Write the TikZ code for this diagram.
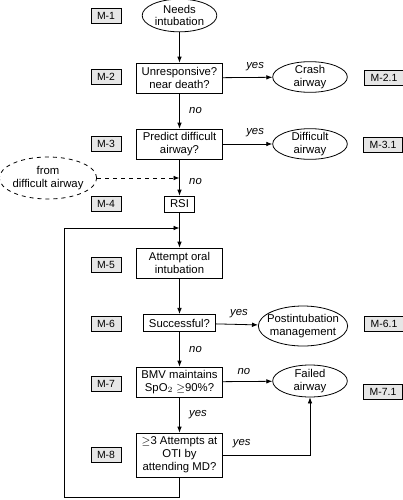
\documentclass[tikz,border=0pt]{standalone}
\usepackage{fontspec}
\setmainfont{Liberation Sans}
\definecolor{tagfill}{HTML}{E6E6E6}
\usetikzlibrary{arrows.meta, shapes, positioning}
\tikzset{
  stepbox/.style={draw, align=center, inner sep=1pt,
                  font=\fontsize{8.5}{9.6}\selectfont},
  endoval/.style={draw, ellipse, align=center, inner xsep=-8pt,
                  inner ysep=-5pt, font=\fontsize{8.5}{9.6}\selectfont},
  tagbox/.style={draw, fill=tagfill, inner xsep=4.5pt, inner ysep=2pt,
                 minimum height=11.5pt, font=\fontsize{7.8}{9}\selectfont},
  answer/.style={font=\fontsize{8.5}{9.6}\selectfont\itshape, inner sep=1pt}
}
\begin{document}
\begin{tikzpicture}[x=0.75pt, y=-0.75pt, line width=0.6pt, >={Latex[length=4.5pt,width=3.5pt]}]
      \useasboundingbox (0,0) rectangle (403,500);
      % Main column
      \node[endoval, minimum width=56pt, minimum height=24.5pt] (needs) at (179.5,15.5) {Needs\\intubation};
      \node[stepbox, minimum width=65pt, minimum height=22.5pt] (unresp) at (179.5,78) {Unresponsive?\\near death?};
      \node[stepbox, minimum width=65pt, minimum height=22.5pt] (predict) at (179.5,144) {Predict difficult\\airway?};
      \node[stepbox, minimum width=22.5pt, minimum height=12pt] (rsi) at (179.5,204) {RSI};
      \node[stepbox, minimum width=65pt, minimum height=22.5pt] (attempt) at (179.5,263) {Attempt oral\\intubation};
      \node[stepbox, minimum width=54pt, minimum height=13pt] (success) at (179.5,323) {Successful?};
      \node[stepbox, minimum width=65pt, minimum height=22.5pt] (bmv) at (179.5,382) {BMV maintains\\SpO$_2$ $\geq$90\%?};
      \node[stepbox, minimum width=64pt, minimum height=33pt] (attempts) at (179.5,455) {$\geq$3 Attempts at\\OTI by\\attending MD?};
      % Exits
      \node[endoval, minimum width=56pt, minimum height=23pt] (crash) at (310,77) {Crash\\airway};
      \node[endoval, minimum width=56pt, minimum height=23pt] (diffair) at (310,144) {Difficult\\airway};
      \node[endoval, minimum width=67pt, minimum height=30pt] (postint) at (303,326) {Postintubation\\management};
      \node[endoval, minimum width=56pt, minimum height=24pt] (failed) at (310,381) {Failed\\airway};
      \node[endoval, dashed, minimum width=73pt, minimum height=31.5pt] (fromdiff) at (48,178) {from\\difficult airway};
      % Tags
      \node[tagbox] (m1) at (106,16) {M-1};
      \node[tagbox] (m2) at (106,77) {M-2};
      \node[tagbox] (m3) at (106,144) {M-3};
      \node[tagbox] (m4) at (106,204) {M-4};
      \node[tagbox] (m5) at (106,265) {M-5};
      \node[tagbox] (m6) at (106,324) {M-6};
      \node[tagbox] (m7) at (106,384) {M-7};
      \node[tagbox] (m8) at (106,455) {M-8};
      \node[tagbox] (m21) at (384,78) {M-2.1};
      \node[tagbox] (m31) at (383,145) {M-3.1};
      \node[tagbox] (m61) at (384,324) {M-6.1};
      \node[tagbox] (m71) at (383,392) {M-7.1};
      % Join points
      \coordinate (dashin) at (179.5,178);
      \coordinate (loopin) at (179.5,228);
      \coordinate (loopcorner) at (64,497);
      % Flow
      \draw[->] (needs) -- (unresp);
      \draw[->] (unresp) -- node[answer, right=6pt] (a1) {no} (predict);
      \draw[->] (predict) -- node[answer, right=6pt, pos=0.6] (a2) {no} (rsi);
      \draw[->] (rsi) -- (attempt);
      \draw[->] (attempt) -- (success);
      \draw[->] (success) -- node[answer, right=6pt] (a3) {no} (bmv);
      \draw[->] (bmv) -- node[answer, right=6pt] (a4) {yes} (attempts);
      \draw[->] (unresp) -- node[answer, above=4pt, pos=0.65] (a5) {yes} (crash);
      \draw[->] (predict) -- node[answer, above=4pt, pos=0.65] (a6) {yes} (diffair);
      \draw[->] (success) -- node[answer, above=4pt, pos=0.55] (a7) {yes} (postint);
      \draw[->] (bmv) -- node[answer, above=4pt, pos=0.42] (a8) {no} (failed);
      \draw[->] (attempts.east) -| node[answer, above=4pt, pos=0.11] (a9) {yes} (failed.south);
      \draw[->, dashed] (fromdiff) -- (dashin);
      % Loop back
      \draw[->] (attempts.south) |- (loopcorner) |- (loopin);
    \end{tikzpicture}
\end{document}
